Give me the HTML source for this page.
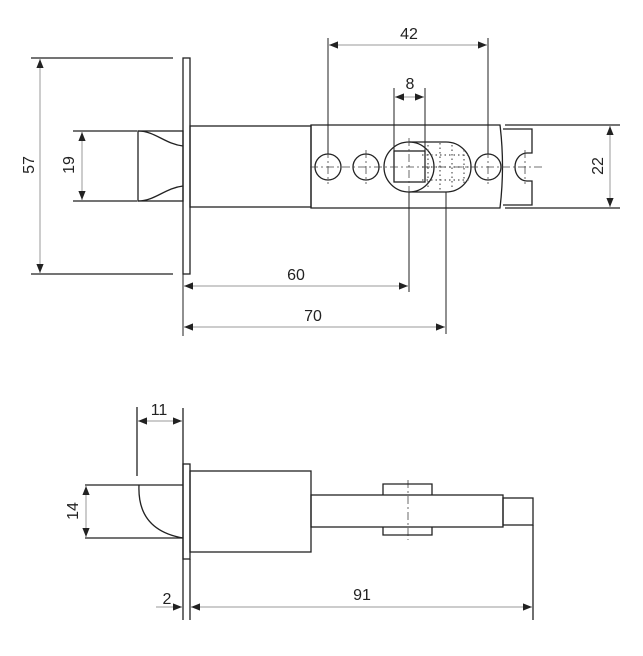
<!DOCTYPE html>
<html><head><style>
html,body{margin:0;padding:0;background:#fff;width:643px;height:656px;overflow:hidden}
text{font-family:"Liberation Sans",sans-serif;font-size:16px;fill:#222}
</style></head><body>
<svg width="643" height="656" viewBox="0 0 643 656" xmlns="http://www.w3.org/2000/svg">
<defs>
<marker id="a" viewBox="0 0 10 10" refX="10" refY="5" markerWidth="9" markerHeight="9" markerUnits="userSpaceOnUse" orient="auto-start-reverse"><path d="M0,1 L10,5 L0,9z" fill="#222"/></marker>
</defs>
<g fill="none" stroke="#222" stroke-width="1.3">
<!-- TOP VIEW -->
<rect x="183" y="58" width="7" height="216"/>
<rect x="138" y="131" width="45" height="70"/>
<path d="M138,131 C155,131 165,144 183,146 M138,201 C155,201 165,188 183,186"/>
<rect x="190" y="126" width="121" height="81"/>
<path d="M311,125 L500,125 Q505,166 500,208 L311,208 Z"/>
<circle cx="328" cy="167" r="13"/>
<circle cx="366" cy="167" r="13"/>
<circle cx="409" cy="167" r="25"/>
<circle cx="488" cy="167" r="13"/>
<rect x="394" y="151" width="31" height="31"/>
<path d="M409,142 L446,142 A25,25 0 0 1 446,192 L409,192"/>
<path d="M503,129 L532,129 L532,153 L527,153 A12,14 0 0 0 527,181 L532,181 L532,205 L503,205"/>
<path d="M505,125 L620,125 M505,208 L620,208"/>
<path d="M31,58 L173,58 M31,274 L173,274 M73,131 L137,131 M73,201 L137,201"/>
</g>
<g fill="none" stroke="#555" stroke-width="1.2" stroke-dasharray="1.5,3">
<path d="M428,145 L428,190 M440,143 L440,191 M452,145 L452,190 M464,150 L464,186 M422,155 L470,155 M422,167 L470,167 M422,180 L470,180"/>
</g>
<g fill="none" stroke="#444" stroke-width="0.8" stroke-dasharray="8,3,2,3">
<path d="M310,167 L545,167 M328,150 L328,184 M366,150 L366,184 M488,150 L488,184 M525,150 L525,184 M409,138 L409,196"/>
<path d="M408,480 L408,540"/>
</g>
<!-- dimension lines -->
<g fill="none" stroke="#222" stroke-width="1">
<path d="M328,38 L328,154 M488,38 L488,154 M394,88 L394,151 M425,88 L425,151 M409,192 L409,292 M446,192 L446,334 M183,274 L183,336"/>
</g>
<g fill="none" stroke="#999" stroke-width="1">
<path d="M329,45 L487,45" marker-start="url(#a)" marker-end="url(#a)"/>
<path d="M395,97 L424,97" marker-start="url(#a)" marker-end="url(#a)"/>
<path d="M184,286 L408,286" marker-start="url(#a)" marker-end="url(#a)"/>
<path d="M184,327 L445,327" marker-start="url(#a)" marker-end="url(#a)"/>
<path d="M40,59 L40,273" marker-start="url(#a)" marker-end="url(#a)"/>
<path d="M82,132 L82,200" marker-start="url(#a)" marker-end="url(#a)"/>
<path d="M610,126 L610,207" marker-start="url(#a)" marker-end="url(#a)"/>
</g>
<text x="409" y="39" text-anchor="middle">42</text>
<text x="410" y="89" text-anchor="middle">8</text>
<text x="296" y="280" text-anchor="middle">60</text>
<text x="313" y="321" text-anchor="middle">70</text>
<text transform="translate(34,165) rotate(-90)" text-anchor="middle">57</text>
<text transform="translate(74,165) rotate(-90)" text-anchor="middle">19</text>
<text transform="translate(603,166) rotate(-90)" text-anchor="middle">22</text>

<!-- BOTTOM VIEW -->
<g fill="none" stroke="#222" stroke-width="1.3">
<rect x="183" y="464" width="7" height="95"/>
<rect x="190" y="471" width="121" height="81"/>
<rect x="311" y="495" width="192" height="32"/>
<rect x="503" y="498" width="30" height="27"/>
<path d="M383,495 L383,484 L432,484 L432,495 M383,527 L383,535 L432,535 L432,527"/>
<path d="M85,485 L183,485 M85,538 L183,538"/>
<path d="M139,485 Q137,530 183,538"/>
<path d="M137,407 L137,476 M183,408 L183,620 M190,559 L190,620 M533,525 L533,620"/>
</g>
<g fill="none" stroke="#999" stroke-width="1">
<path d="M138,421 L182,421" marker-start="url(#a)" marker-end="url(#a)"/>
<path d="M86,486 L86,537" marker-start="url(#a)" marker-end="url(#a)"/>
<path d="M156,607 L182,607" marker-end="url(#a)"/>
<path d="M191,607 L532,607" marker-start="url(#a)" marker-end="url(#a)"/>
</g>
<text x="159" y="415" text-anchor="middle">11</text>
<text transform="translate(78,511) rotate(-90)" text-anchor="middle">14</text>
<text x="167" y="604" text-anchor="middle">2</text>
<text x="362" y="600" text-anchor="middle">91</text>
</svg>
</body></html>
